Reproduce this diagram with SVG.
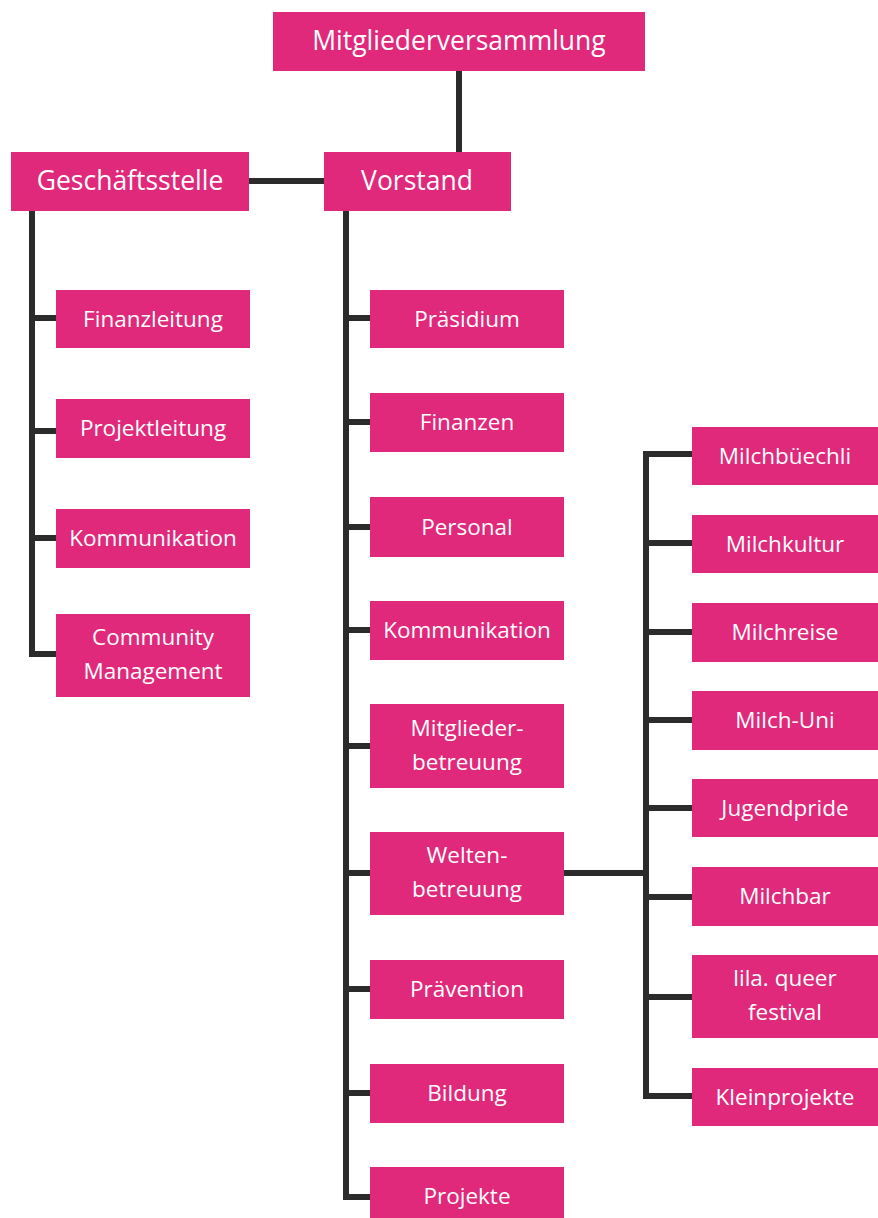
<svg xmlns="http://www.w3.org/2000/svg" width="878" height="1218" viewBox="0 0 878 1218">
<style>
.b{fill:#E0297B}
.t{fill:#fff;font-family:"Open Sans",Lato,"Liberation Sans",sans-serif;font-size:22.5px;text-anchor:middle}
.big{font-size:26.5px}
.c{stroke:#2b2b2b;stroke-width:6;fill:none}
</style>
<rect width="878" height="1218" fill="#fff"/>
<g id="connectors">
<path class="c" d="M459 71V152M249 181H324"/>
<path class="c" d="M32 211V654H56M32 318H56M32 431H56M32 538H56"/>
<path class="c" d="M346 211V1197H370M346 318H370M346 422H370M346 527H370M346 630H370M346 746H370M346 873H370M346 989H370M346 1093H370"/>
<path class="c" d="M564 873H646M692 454H646V1096H692M646 543H692M646 632H692M646 720H692M646 808H692M646 897H692M646 997H692"/>
</g>
<g id="n-mv"><rect class="b" x="273" y="12" width="372" height="59"/><text class="t big" x="459" y="50">Mitgliederversammlung</text></g>
<g id="n-gs"><rect class="b" x="11" y="152" width="238" height="59"/><text class="t big" x="130" y="190">Geschäftsstelle</text></g>
<g id="n-vs"><rect class="b" x="324" y="152" width="187" height="59"/><text class="t big" x="417" y="190">Vorstand</text></g>

<g id="n-finanzleitung"><rect class="b" x="56" y="290" width="194" height="58"/><text class="t" x="153" y="327">Finanzleitung</text></g>
<g id="n-projektleitung"><rect class="b" x="56" y="399" width="194" height="59"/><text class="t" x="153" y="436">Projektleitung</text></g>
<g id="n-kommunikation-gs"><rect class="b" x="56" y="509" width="194" height="59"/><text class="t" x="153" y="546">Kommunikation</text></g>
<g id="n-community"><rect class="b" x="56" y="614" width="194" height="83"/><text class="t" x="153" y="645">Community</text><text class="t" x="153" y="679">Management</text></g>

<g id="n-praesidium"><rect class="b" x="370" y="290" width="194" height="58"/><text class="t" x="467" y="327">Präsidium</text></g>
<g id="n-finanzen"><rect class="b" x="370" y="393" width="194" height="59"/><text class="t" x="467" y="430">Finanzen</text></g>
<g id="n-personal"><rect class="b" x="370" y="497" width="194" height="60"/><text class="t" x="467" y="535">Personal</text></g>
<g id="n-kommunikation-vs"><rect class="b" x="370" y="601" width="194" height="59"/><text class="t" x="467" y="638">Kommunikation</text></g>
<g id="n-mitgliederbetreuung"><rect class="b" x="370" y="704" width="194" height="84"/><text class="t" x="467" y="736">Mitglieder-</text><text class="t" x="467" y="770">betreuung</text></g>
<g id="n-weltenbetreuung"><rect class="b" x="370" y="832" width="194" height="83"/><text class="t" x="467" y="863">Welten-</text><text class="t" x="467" y="897">betreuung</text></g>
<g id="n-praevention"><rect class="b" x="370" y="960" width="194" height="59"/><text class="t" x="467" y="997">Prävention</text></g>
<g id="n-bildung"><rect class="b" x="370" y="1064" width="194" height="59"/><text class="t" x="467" y="1101">Bildung</text></g>
<g id="n-projekte"><rect class="b" x="370" y="1167" width="194" height="58"/><text class="t" x="467" y="1204">Projekte</text></g>

<g id="n-milchbuechli"><rect class="b" x="692" y="427" width="190" height="58"/><text class="t" x="785" y="464">Milchbüechli</text></g>
<g id="n-milchkultur"><rect class="b" x="692" y="515" width="190" height="58"/><text class="t" x="785" y="552">Milchkultur</text></g>
<g id="n-milchreise"><rect class="b" x="692" y="603" width="190" height="59"/><text class="t" x="785" y="640">Milchreise</text></g>
<g id="n-milchuni"><rect class="b" x="692" y="691" width="190" height="59"/><text class="t" x="785" y="728">Milch-Uni</text></g>
<g id="n-jugendpride"><rect class="b" x="692" y="779" width="190" height="58"/><text class="t" x="785" y="816">Jugendpride</text></g>
<g id="n-milchbar"><rect class="b" x="692" y="867" width="190" height="59"/><text class="t" x="785" y="904">Milchbar</text></g>
<g id="n-lila"><rect class="b" x="692" y="955" width="190" height="83"/><text class="t" x="785" y="986">lila. queer</text><text class="t" x="785" y="1020">festival</text></g>
<g id="n-kleinprojekte"><rect class="b" x="692" y="1068" width="190" height="58"/><text class="t" x="785" y="1105">Kleinprojekte</text></g>
</svg>
